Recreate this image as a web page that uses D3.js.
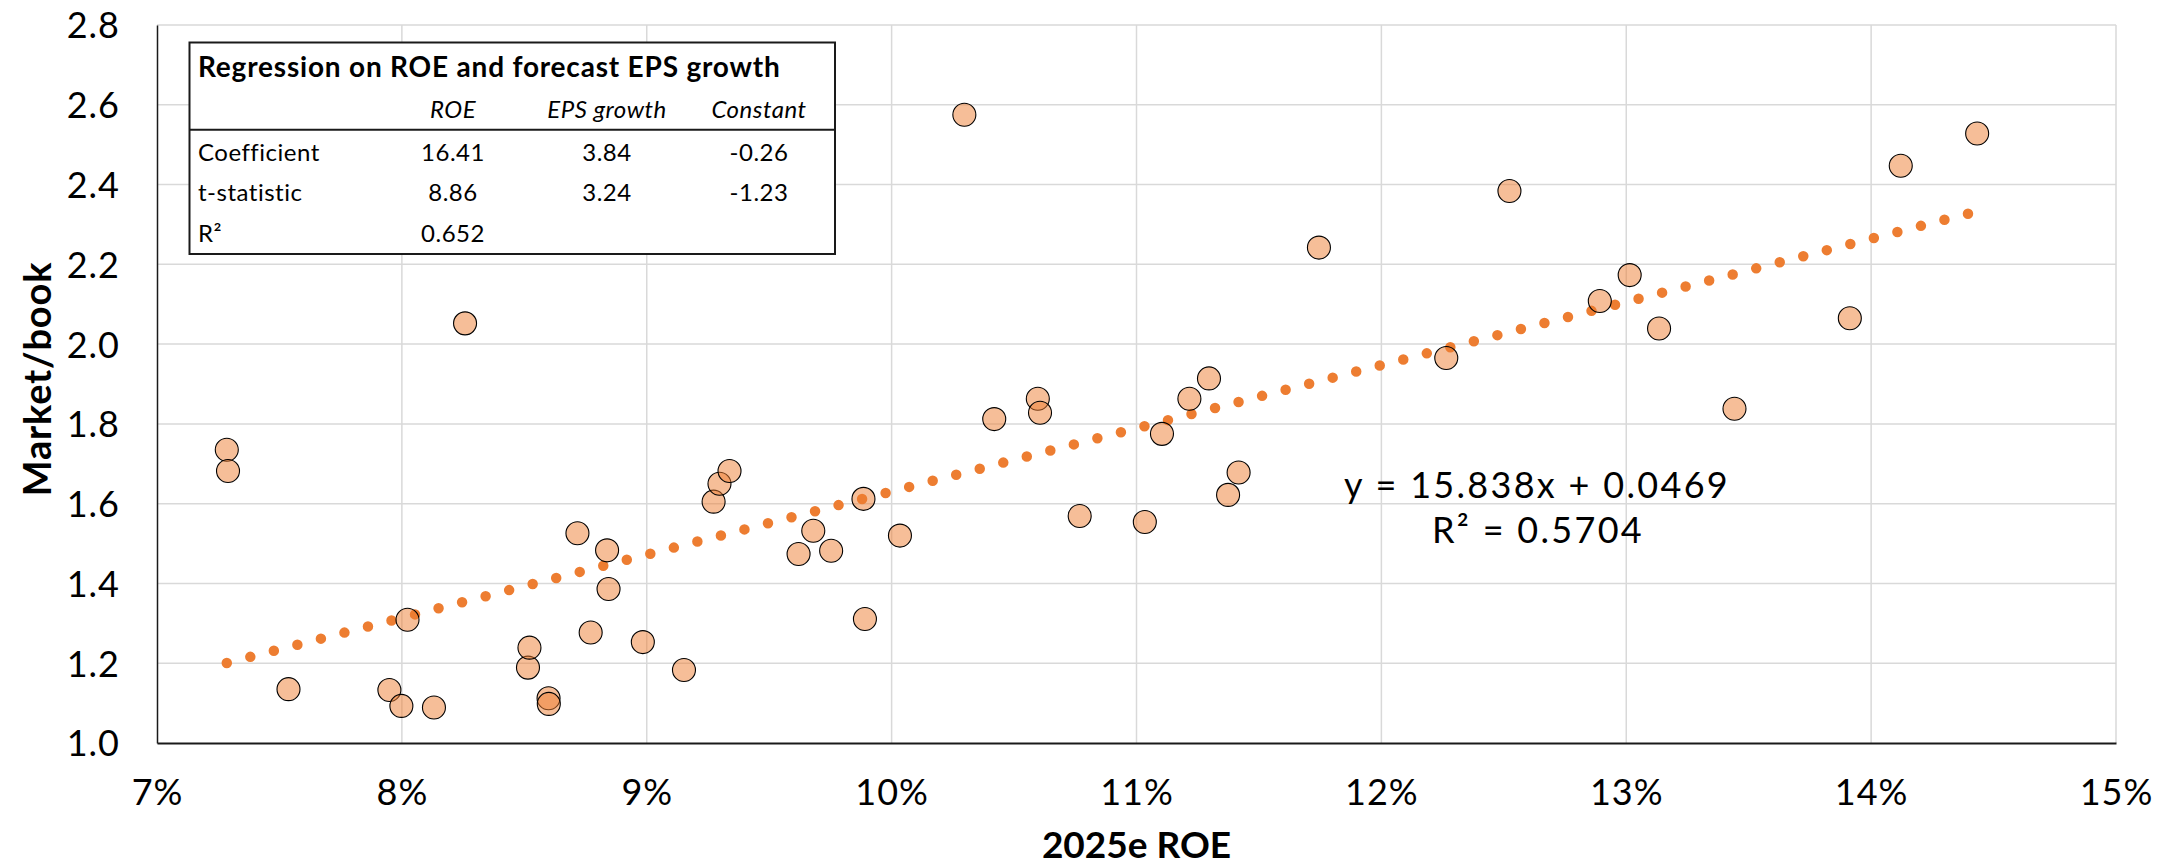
<!DOCTYPE html>
<html>
<head>
<meta charset="utf-8">
<script src="https://cdn.jsdelivr.net/npm/d3@7/dist/d3.min.js"></script>
<style>
  html, body { margin: 0; padding: 0; background: #fff; }
  svg { display: block; font-family: Lato, "Noto Sans", sans-serif; }
</style>
</head>
<body>
<svg id="chart" width="2183" height="865"></svg>
<script>
// 2025e ROE (%) and market/book for each bank
const roe = [7.285, 7.29, 7.537, 7.949, 7.998, 8.023, 8.131, 8.258, 8.515, 8.521,
  8.599, 8.600, 8.717, 8.771, 8.838, 8.844, 8.984, 9.152, 9.273, 9.297,
  9.338, 9.620, 9.680, 9.753, 9.885, 9.891, 10.034, 10.297, 10.419, 10.597,
  10.606, 10.768, 11.034, 11.104, 11.216, 11.296, 11.374, 11.417, 11.745, 12.265,
  12.523, 12.892, 13.014, 13.134, 13.442, 13.913, 14.121, 14.433];
const marketBook = [1.735, 1.682, 1.135, 1.133, 1.093, 1.309, 1.089, 2.052, 1.189, 1.239,
  1.112, 1.098, 1.526, 1.277, 1.483, 1.386, 1.253, 1.183, 1.605, 1.650,
  1.682, 1.474, 1.532, 1.482, 1.612, 1.311, 1.520, 2.575, 1.812, 1.863,
  1.828, 1.569, 1.554, 1.775, 1.863, 1.914, 1.622, 1.678, 2.242, 1.965,
  2.384, 2.108, 2.173, 2.039, 1.838, 2.065, 2.447, 2.528];

// Linear trend (x as a fraction)
const trendSlope = 15.838;
const trendIntercept = 0.0469;
const trendR2 = 0.5704;

// Axis ticks
const xTicks = [7, 8, 9, 10, 11, 12, 13, 14, 15];
const yTicks = [1.0, 1.2, 1.4, 1.6, 1.8, 2.0, 2.2, 2.4, 2.6, 2.8];

// Multiple regression summary table
const tableTitle = "Regression on ROE and forecast EPS growth";
const tableColumns = ["ROE", "EPS growth", "Constant"];
const tableRows = ["Coefficient", "t-statistic", "R²"];
const coefficients = ["16.41", "3.84", "-0.26"];
const tStats = ["8.86", "3.24", "-1.23"];
const multiR2 = ["0.652", "", ""];

const svg = d3.select("#chart");
const plotL = 157, plotR = 2116, plotT = 25, plotB = 743;

const x = d3.scaleLinear().domain([7, 15]).range([plotL, plotR]);
const y = d3.scaleLinear().domain([1.0, 2.8]).range([plotB, plotT]);

const grid = svg.append("g");
// vertical gridlines
grid.selectAll("line.v").data(xTicks.slice(1)).join("line")
  .attr("x1", d => x(d)).attr("x2", d => x(d))
  .attr("y1", plotT).attr("y2", plotB)
  .attr("stroke", "#d9d9d9").attr("stroke-width", 1.5);
// horizontal gridlines
grid.selectAll("line.h").data(yTicks.slice(1)).join("line")
  .attr("x1", plotL).attr("x2", plotR)
  .attr("y1", d => y(d)).attr("y2", d => y(d))
  .attr("stroke", "#d9d9d9").attr("stroke-width", 1.5);

// axes
const xAxis = svg.append("g").attr("transform", `translate(0,${plotB})`)
  .call(d3.axisBottom(x).tickValues(xTicks).tickSize(0).tickFormat(d => d + "%"));
xAxis.select(".domain").attr("stroke", "#1a1a1a").attr("stroke-width", 2.2);
xAxis.selectAll("text").attr("font-size", 36).attr("fill", "#000")
  .attr("font-family", "Lato").attr("y", 62).attr("dy", 0).attr("letter-spacing", 1);

const yAxis = svg.append("g").attr("transform", `translate(${plotL},0)`)
  .call(d3.axisLeft(y).tickValues(yTicks).tickSize(0).tickFormat(d3.format(".1f")));
yAxis.select(".domain").attr("stroke", "#1a1a1a").attr("stroke-width", 1.5);
yAxis.selectAll("text").attr("font-size", 36).attr("fill", "#000")
  .attr("font-family", "Lato").attr("x", -37).attr("dy", "0.36em").attr("letter-spacing", 1);

// axis titles
svg.append("text")
  .attr("x", (plotL + plotR) / 2).attr("y", 858)
  .attr("text-anchor", "middle").attr("font-size", 37).attr("font-weight", 700)
  .text("2025e ROE");
svg.append("text")
  .attr("transform", `translate(51,${(plotT + plotB) / 2 - 5}) rotate(-90)`)
  .attr("text-anchor", "middle").attr("font-size", 38).attr("font-weight", 700)
  .attr("letter-spacing", 0.8)
  .text("Market/book");

// dotted trendline across the data range
const xMin = d3.min(roe), xMax = d3.max(roe);
svg.append("line")
  .attr("x1", x(xMin)).attr("y1", y(trendSlope * xMin / 100 + trendIntercept))
  .attr("x2", x(xMax)).attr("y2", y(trendSlope * xMax / 100 + trendIntercept))
  .attr("stroke", "#ed7d31").attr("stroke-width", 10.5)
  .attr("stroke-linecap", "round").attr("stroke-dasharray", "0 24.3");

// scatter markers
svg.append("g").selectAll("circle").data(roe).join("circle")
  .attr("cx", d => x(d)).attr("cy", (d, i) => y(marketBook[i]))
  .attr("r", 11.5)
  .attr("fill", "#ed7d31").attr("fill-opacity", 0.5)
  .attr("stroke", "#000").attr("stroke-width", 1.1);

// trend equation
const eq = svg.append("g").attr("font-size", 36).attr("text-anchor", "middle");
eq.append("text").attr("x", 1537).attr("y", 498).attr("letter-spacing", 2.3)
  .text(`y = ${trendSlope}x + ${trendIntercept}`);
eq.append("text").attr("x", 1538).attr("y", 543).attr("letter-spacing", 2.3)
  .text(`R² = ${trendR2}`);

// regression table
const tbl = svg.append("g");
const tL = 189.5, tR = 835, tT = 42.5, tB = 254;
tbl.append("rect").attr("x", tL).attr("y", tT).attr("width", tR - tL).attr("height", tB - tT)
  .attr("fill", "#fff").attr("stroke", "#1a1a1a").attr("stroke-width", 2);
tbl.append("line").attr("x1", tL).attr("x2", tR).attr("y1", 129.7).attr("y2", 129.7)
  .attr("stroke", "#1a1a1a").attr("stroke-width", 2);
tbl.append("text").attr("x", 198).attr("y", 77).attr("font-size", 28).attr("font-weight", 700)
  .attr("letter-spacing", 0.8)
  .text(tableTitle);
const colX = [453, 607, 759];
tbl.selectAll("text.col").data(tableColumns).join("text")
  .attr("x", (d, i) => colX[i]).attr("y", 118).attr("text-anchor", "middle")
  .attr("font-size", 24).attr("font-style", "italic").attr("letter-spacing", 0.5).text(d => d);
const rowY = [160.7, 201, 241.7];
tbl.selectAll("text.row").data(tableRows).join("text")
  .attr("x", 198).attr("y", (d, i) => rowY[i]).attr("font-size", 24).attr("letter-spacing", 0.5)
  .text(d => d);
[coefficients, tStats, multiR2].forEach((vals, r) => {
  tbl.append("g").selectAll("text").data(vals).join("text")
    .attr("x", (d, i) => colX[i]).attr("y", rowY[r]).attr("text-anchor", "middle")
    .attr("font-size", 24).attr("letter-spacing", 0.5).text(d => d);
});
</script>
</body>
</html>
